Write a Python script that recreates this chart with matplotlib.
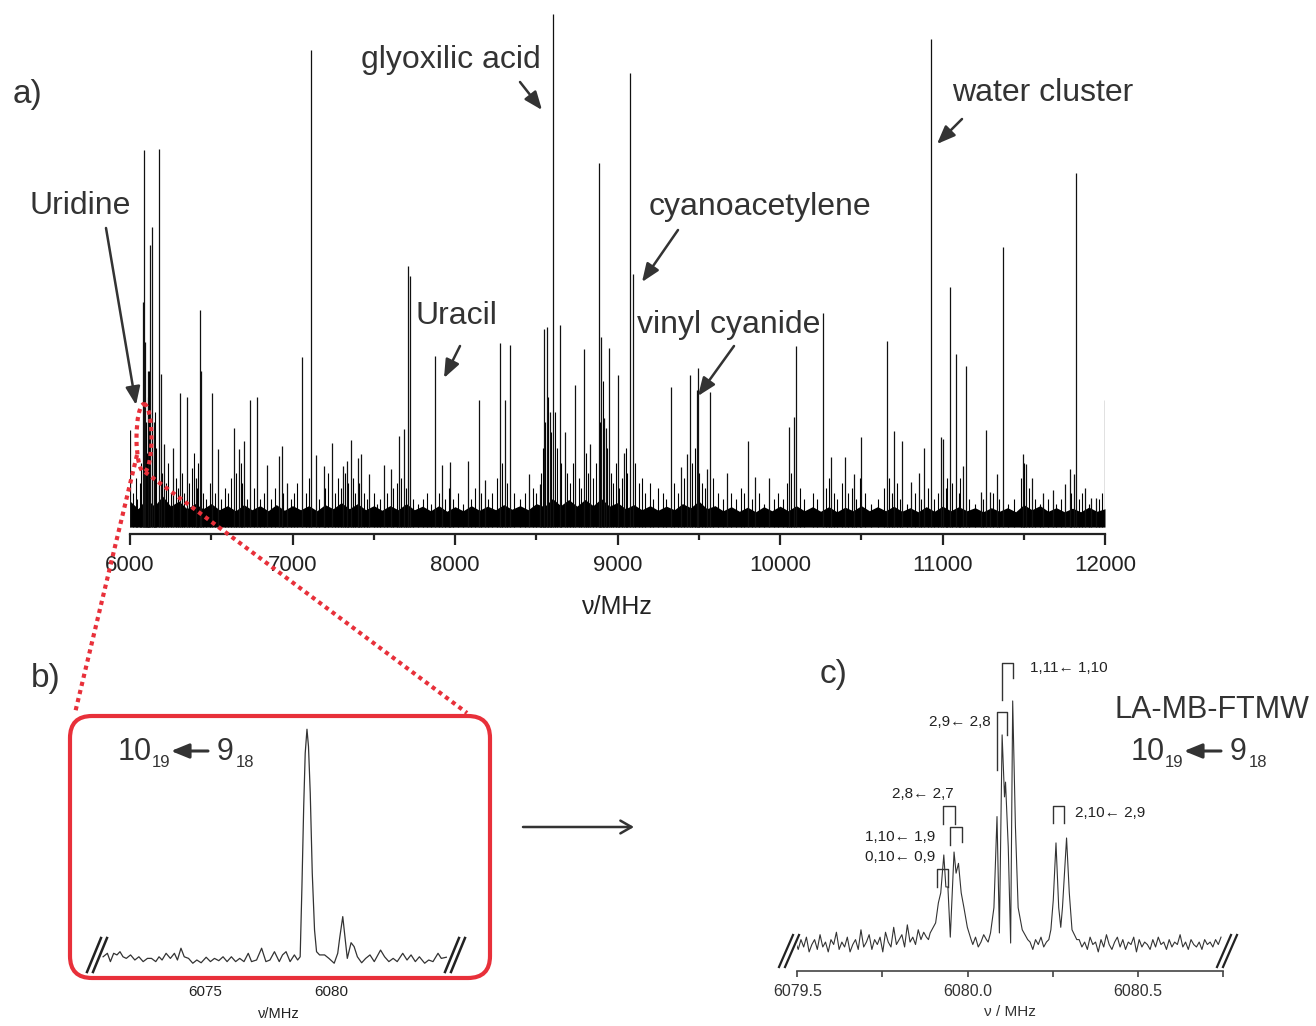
import numpy as np
import matplotlib
matplotlib.use("Agg")
import matplotlib.pyplot as plt
from matplotlib.patches import FancyBboxPatch, Ellipse
from matplotlib.ticker import MultipleLocator, FormatStrFormatter

plt.rcParams['font.family'] = ['Liberation Sans', 'DejaVu Sans']

W, H = 1316, 1026
INK = '#333333'
RED = '#e8303a'

# ---------------- a) broadband survey, 6-12 GHz (100 = strongest line)
line_freq = [6000, 6080, 6088, 6094, 6113, 6124, 6137, 6150, 6176, 6189, 6210, 6267,
             6308, 6350, 6404, 6430, 6438, 6505, 6539, 6642, 6668, 6699, 6741, 6780,
             6842, 6919, 6935, 6966, 7059, 7116, 7145, 7191, 7241, 7308, 7334, 7357,
             7401, 7422, 7471, 7562, 7606, 7658, 7684, 7712, 7722, 7878, 7919, 7971,
             8080, 8145, 8183, 8277, 8308, 8339, 8455, 8520, 8549, 8567, 8585, 8606,
             8644, 8675, 8740, 8792, 8831, 8885, 8901, 8914, 8927, 8948, 9000, 9038,
             9077, 9098, 9327, 9391, 9425, 9444, 9489, 9494, 9552, 9571, 9672, 9801,
             9844, 9931, 10056, 10087, 10101, 10265, 10313, 10400, 10453, 10501, 10657,
             10702, 10752, 10805, 10856, 10887, 10930, 10988, 11001, 11049, 11081, 11126,
             11144, 11237, 11266, 11293, 11338, 11370, 11494, 11513, 11550, 11621, 11677,
             11756, 11783, 11809, 11822, 11875, 11915, 11947, 12000]
line_int = [18.4, 43.5, 73.3, 35.7, 30, 54.7, 58.2, 20, 73.5, 29.4, 15.7, 14.9,
            25.7, 24.9, 9, 42, 30, 25.7, 14.7, 18.8, 14.7, 16.2, 24.3, 24.9,
            11.5, 13.3, 15.3, 8, 32.7, 92.9, 13.5, 11.4, 15.9, 11.4, 12.4, 16.5,
            12.9, 13.7, 9.8, 11.5, 10.8, 17.3, 18.7, 50.6, 48.6, 32.9, 11.5, 12.2,
            12.3, 24.3, 8.6, 35.5, 24.3, 35.1, 9.8, 7.8, 38.2, 38.7, 22, 100,
            39, 18, 27.3, 34.4, 15.7, 70.8, 36.6, 20.8, 18.8, 34.5, 29.2, 14,
            88.5, 49, 26.8, 11.1, 13.7, 29.3, 26.3, 30.6, 10.8, 25.9, 10, 16.2,
            9.3, 9, 19, 20.9, 34.9, 41.3, 13.1, 13.2, 9.8, 17.1, 35.9,
            18.3, 16.2, 8.2, 10, 14.9, 95.1, 17, 16.7, 46.5, 33.3, 11.4,
            31, 6.3, 18.4, 6.3, 9.8, 54.3, 13.7, 11.8, 9, 6.1, 6.7,
            7.8, 10.8, 9.8, 68.9, 7.1, 5.1, 5.1, 24.3]

weak_freq = [6020, 6035, 6045, 6060, 6070, 6100, 6105, 6112, 6118, 6145, 6152, 6160,
             6195, 6220, 6235, 6250, 6280, 6295, 6320, 6335, 6365, 6380, 6395, 6415,
             6420, 6450, 6470, 6490, 6520, 6560, 6585, 6600, 6620, 6655, 6680, 6690,
             6720, 6760, 6800, 6825, 6870, 6890, 6940, 6990, 7010, 7030, 7080, 7100,
             7160, 7200, 7220, 7260, 7280, 7300, 7320, 7340, 7370, 7385, 7410, 7440,
             7460, 7500, 7520, 7540, 7580, 7620, 7640, 7670, 7700, 7740, 7770, 7800,
             7830, 7850, 7900, 7940, 7960, 7990, 8020, 8050, 8100, 8120, 8160, 8200,
             8230, 8260, 8290, 8320, 8360, 8400, 8430, 8480, 8500, 8530, 8540, 8555,
             8575, 8590, 8615, 8630, 8655, 8690, 8710, 8725, 8760, 8775, 8805, 8820,
             8850, 8870, 8895, 8910, 8935, 8960, 8975, 8990, 9010, 9030, 9050, 9060,
             9110, 9130, 9150, 9170, 9200, 9220, 9250, 9280, 9300, 9350, 9370, 9410,
             9460, 9475, 9500, 9520, 9540, 9590, 9620, 9650, 9700, 9730, 9760, 9780,
             9830, 9870, 9900, 9960, 9990, 10020, 10040, 10070, 10120, 10150, 10200, 10230,
             10280, 10300, 10330, 10350, 10380, 10420, 10440, 10470, 10490, 10520, 10560, 10600,
             10640, 10670, 10690, 10720, 10740, 10780, 10830, 10870, 10910, 10950, 10970, 11020,
             11030, 11060, 11100, 11110, 11160, 11200, 11250, 11310, 11350, 11400, 11440, 11480,
             11500, 11530, 11570, 11600, 11650, 11700, 11730, 11790, 11840, 11860, 11900, 11960,
             11980]
weak_int = [6, 9, 5, 8, 12, 20, 14, 25, 30, 17, 22, 15,
            10, 8, 12, 6, 9, 7, 10, 6, 8, 11, 14, 7,
            12, 6, 5, 8, 6, 5, 7, 6, 9, 10, 12, 8,
            5, 7, 5, 6, 5, 7, 6, 5, 6, 8, 6, 9,
            5, 7, 10, 6, 9, 7, 10, 8, 9, 6, 8, 6,
            5, 6, 4, 5, 6, 7, 8, 9, 7, 5, 4, 5,
            6, 4, 6, 5, 7, 5, 6, 4, 5, 7, 6, 5,
            6, 9, 12, 8, 6, 5, 6, 7, 6, 10, 15, 20,
            25, 18, 22, 15, 12, 10, 8, 12, 9, 7, 14, 10,
            9, 12, 20, 28, 15, 10, 8, 12, 7, 9, 15, 10,
            12, 8, 9, 6, 8, 5, 7, 6, 5, 8, 6, 9,
            12, 15, 10, 8, 7, 9, 6, 5, 6, 5, 7, 6,
            5, 6, 4, 5, 6, 5, 8, 10, 7, 5, 6, 5,
            7, 9, 6, 5, 8, 6, 7, 5, 9, 6, 4, 5,
            7, 9, 6, 8, 5, 4, 6, 5, 7, 5, 6, 7,
            9, 8, 6, 9, 5, 4, 5, 6, 5, 4, 5, 9,
            12, 7, 5, 4, 5, 4, 5, 6, 5, 6, 4, 5,
            6]

# dense noise floor: ragged top edge of the solid band, read every 50 MHz
band_freq = np.arange(6000, 12001, 50)
band_top = [4.5, 3, 5, 3.5, 5.5, 3.5, 4.5, 3, 4, 3, 4, 2.8,
            3.6, 2.6, 3.8, 2.8, 3.6, 2.6, 3.8, 2.7, 3.6, 2.8, 3.6, 2.6,
            3.8, 3, 4.2, 3, 4, 2.8, 3.6, 2.7, 3.6, 2.8, 4, 2.8,
            3.5, 2.6, 3.6, 2.5, 3.4, 2.6, 3.6, 2.7, 3.5, 2.8, 3.8, 2.9,
            3.6, 2.8, 4, 3.4, 5, 3.6, 4.8, 3.5, 4.8, 3.6, 5, 3.5,
            4.2, 3, 3.8, 2.8, 3.6, 2.7, 3.5, 2.8, 4, 3.2, 4.5, 3,
            3.6, 2.6, 3.4, 2.5, 3.3, 2.4, 3.4, 2.6, 3.5, 2.6, 3.6, 2.6,
            3.4, 2.5, 3.4, 2.4, 3.3, 2.6, 3.6, 2.6, 3.4, 2.6, 3.5, 2.5,
            3.2, 2.4, 3.4, 2.5, 3.5, 2.6, 3.4, 2.6, 3.2, 2.4, 3.2, 2.5,
            3.2, 2.4, 3.8, 2.8, 3.6, 2.5, 3.2, 2.4, 3.1, 2.4, 3.3, 2.5,
            3]
band_floor = -0.6

# ---------------- b) Uridine 10_19 <- 9_18 in the survey scan
b_freq = [6070.96, 6071.13, 6071.25, 6071.38, 6071.51, 6071.63, 6071.75, 6071.88, 6072.05,
          6072.22, 6072.38, 6072.55, 6072.72, 6072.88, 6073.05, 6073.18, 6073.30, 6073.46,
          6073.63, 6073.79, 6073.91, 6074.05, 6074.18, 6074.35, 6074.52, 6074.68, 6074.85,
          6075.05, 6075.22, 6075.38, 6075.55, 6075.72, 6075.88, 6076.05, 6076.22, 6076.38,
          6076.55, 6076.72, 6076.85, 6077.05, 6077.25, 6077.42, 6077.58, 6077.76, 6077.95,
          6078.08, 6078.22, 6078.38, 6078.55, 6078.68, 6078.78, 6078.85, 6078.92, 6078.98,
          6079.05, 6079.11, 6079.18, 6079.26, 6079.35, 6079.43, 6079.55, 6079.75, 6079.92,
          6080.13, 6080.27, 6080.35, 6080.47, 6080.56, 6080.65, 6080.80, 6080.92, 6081.05,
          6081.22, 6081.38, 6081.55, 6081.72, 6081.97, 6082.13, 6082.30, 6082.47, 6082.63,
          6082.85, 6083.02, 6083.18, 6083.35, 6083.51, 6083.72, 6083.88, 6084.05, 6084.25,
          6084.38, 6084.58]
b_int = [1.4, 2.9, -0.7, 2.9, 2.2, 3.6, 1.4, 0.7, 2.2,
         0, 1.4, -0.7, 0.7, 0.7, -0.7, 1.4, 0, 2.9,
         0.7, 2.9, 0, 5.1, 1.4, 0.7, -1.4, 0, -1.2,
         1.2, -0.7, 0.7, -0.3, 1.4, -0.7, 1.4, -0.7, 0.7,
         -0.7, 2.9, -0.7, 0, 5.1, -0.7, 0, 3.6, -0.7,
         2.2, 3.6, -0.7, 2.2, 0, 1.4, 31.8, 66.5, 89.6,
         100, 92.5, 72.3, 37.6, 13, 3.6, 2.2, 2.2, 0.7,
         -1.4, 2.9, 9.7, 18.8, 9.7, 0.7, 7.5, 5.8, 1.4,
         -1.2, 0.7, 2.2, -0.7, 4.3, 1.4, -0.7, 0.7, -0.7,
         2.9, 0, 2.2, -0.7, 1.4, -1.4, 0, -0.7, 2.9,
         0.7, 1.2]

# ---------------- c) LA-MB-FTMW high resolution scan
# noise sampled every 8 kHz; nan where the hyperfine lines take over
c_noise_freq = np.round(np.arange(6079.495, 6080.75, 0.008), 3)
c_noise_int = [2, -1, 3, 0, 4, -2, 1, 3, -1, 5, 0, 2, -2, 3, 1, 6, -1, 2, 0, 4,
               -2, 1, 3, -1, 7, 0, 2, 5, -1, 3, 1, 4, -2, 6, 2, 0, 8, 1, 3, 5,
               0, 9, 2, 4, 1, 7, 3, 6, 4] + [np.nan] * 16 + \
              [1, 4, 0, 2, 5, 3] + [np.nan] * 15 + \
              [2, -1, 3, 1, 4, 0, 2] + [np.nan] * 11 + \
              [3, 0, 2, -1, 4, 1, 2, -2, 3, 0, 5, 1, -1, 2, 4, 0, 3, -1, 2, 1,
               4, -2, 3, 0, 2, 1, -1, 3, 0, 4, 1, 2, -1, 3, 0, 2, 1, 5, 0, 2,
               -1, 3, 1, 0, 2, -1, 3, 1, 2, 0, 3, 1, 4]
c_peak_freq = [6079.885, 6079.890, 6079.906, 6079.914, 6079.921, 6079.930, 6079.936,
               6079.942, 6079.949, 6079.960, 6079.966, 6079.973, 6079.981, 6079.989,
               6079.999, 6080.010,
               6080.060, 6080.067, 6080.077, 6080.086, 6080.093, 6080.101, 6080.108,
               6080.111, 6080.119, 6080.126, 6080.132, 6080.140, 6080.148, 6080.160,
               6080.176,
               6080.238, 6080.244, 6080.251, 6080.259, 6080.267, 6080.273, 6080.278,
               6080.290, 6080.298, 6080.306, 6080.320]
c_peak_int = [3, 5.7, 9.8, 17.9, 22, 37.4, 24.4,
              24.4, 4, 38.6, 30, 34, 22, 16,
              8, 3,
              2, 5.7, 16, 53, 5.7, 86.2, 61,
              67, 40.7, 1.6, 100, 49, 16, 7,
              3,
              3, 7, 19, 42.3, 16, 8, 16,
              44.3, 22, 7, 3]

# hyperfine assignments: label, left/right leg freq, top, leg bottoms, label anchor
c_brackets = [
    ("1,11\u2190 1,10", 6080.101, 6080.132, 115.6, 100.4, 109.3, 6080.183, 113.4, 'left'),
    ("2,9\u2190 2,8", 6080.086, 6080.116, 95.7, 72.0, 86.2, 6080.067, 91.6, 'right'),
    ("2,8\u2190 2,7", 6079.928, 6079.962, 57.4, 49.9, 49.9, 6079.869, 62.1, 'center'),
    ("1,10\u2190 1,9", 6079.949, 6079.983, 48.9, 41.5, 42.6, 6079.906, 44.8, 'right'),
    ("0,10\u2190 0,9", 6079.911, 6079.942, 31.6, 24.3, 24.3, 6079.906, 36.7, 'right'),
    ("2,10\u2190 2,9", 6080.249, 6080.283, 57.4, 50.5, 50.5, 6080.314, 54.3, 'left'),
]

fig = plt.figure(figsize=(W / 100, H / 100), dpi=100)


def px_axes(x0, y0, x1, y1):
    return fig.add_axes([x0 / W, 1 - y1 / H, (x1 - x0) / W, (y1 - y0) / H])


# ---- a)
ax_a = px_axes(130, 10, 1105, 534)
ax_a.fill_between(band_freq, band_floor, band_top, color='black', lw=0)
ax_a.vlines(weak_freq, band_floor, weak_int, color='black', lw=0.8)
ax_a.vlines(line_freq, band_floor, line_int, color='#111111', lw=0.9)
ax_a.set_xlim(6000, 12000)
ax_a.set_ylim(-1.96, 100.8)
for s in ['top', 'left', 'right']:
    ax_a.spines[s].set_visible(False)
ax_a.spines['bottom'].set_linewidth(1.6)
ax_a.spines['bottom'].set_color('#222222')
ax_a.set_yticks([])
ax_a.xaxis.set_major_locator(MultipleLocator(1000))
ax_a.xaxis.set_minor_locator(MultipleLocator(500))
ax_a.tick_params(axis='x', which='major', direction='out', length=8, width=1.6,
                 labelsize=16, pad=7, colors='#222222')
ax_a.tick_params(axis='x', which='minor', direction='out', length=4, width=1.6,
                 colors='#222222')
ax_a.set_xlabel("\u03bd/MHz", fontsize=18, color='#222222', labelpad=14)

# ---- b)
ax_b = px_axes(92, 720, 466, 972)
ax_b.plot(b_freq, b_int, color=INK, lw=0.9)
ax_b.set_xlim(6070.52, 6085.36)
ax_b.set_ylim(-5.2, 104)
for s in ax_b.spines.values():
    s.set_visible(False)
ax_b.set_yticks([])
ax_b.set_xticks([6075, 6080])
ax_b.tick_params(axis='x', length=0, labelsize=11, pad=9, colors='#222222')
ax_b.set_xlabel("\u03bd/MHz", fontsize=10.5, color='#222222', labelpad=6)

# ---- c)
ax_c = px_axes(797.2, 650, 1223.4, 971)
keep = ~np.isnan(np.array(c_noise_int, dtype=float))
c_f = np.concatenate([c_noise_freq[keep], c_peak_freq])
c_i = np.concatenate([np.array(c_noise_int, dtype=float)[keep], c_peak_int])
order = np.argsort(c_f)
ax_c.plot(c_f[order], c_i[order], color=INK, lw=0.8)
ax_c.set_xlim(6079.5, 6080.75)
ax_c.set_ylim(-9.76, 120.7)
for s in ['top', 'left', 'right']:
    ax_c.spines[s].set_visible(False)
ax_c.spines['bottom'].set_linewidth(1.2)
ax_c.spines['bottom'].set_color('#444444')
ax_c.set_yticks([])
ax_c.xaxis.set_major_locator(MultipleLocator(0.5))
ax_c.xaxis.set_minor_locator(MultipleLocator(0.25))
ax_c.xaxis.set_major_formatter(FormatStrFormatter('%.1f'))
ax_c.tick_params(axis='x', which='both', direction='out', length=4, width=1.1,
                 labelsize=11.5, pad=5, colors='#333333')
ax_c.set_xlabel("\u03bd / MHz", fontsize=11, color='#333333', labelpad=5)

for lab, fl, fr, top, bl, br, tx, ty, ha in c_brackets:
    ax_c.plot([fl, fl, fr, fr], [bl, top, top, br], color=INK, lw=1.0, clip_on=False)
    ax_c.text(tx, ty, lab, ha=ha, va='center', fontsize=11, color='#222222')

# ---- overlay in pixel units for the figure furniture
ax_o = fig.add_axes([0, 0, 1, 1])
ax_o.set_xlim(0, W)
ax_o.set_ylim(H, 0)
ax_o.axis('off')
ax_o.set_zorder(5)
ax_o.patch.set_visible(False)

for txt, (x, y) in {"a)": (28, 94), "b)": (46, 678), "c)": (834, 675)}.items():
    ax_o.text(x, y, txt, fontsize=24, color=INK, ha='center', va='center')

labels = [
    ("Uridine", (80, 206), (106, 228), (136, 405)),
    ("glyoxilic acid", (451, 60), (520, 82), (542, 110)),
    ("Uracil", (456, 316), (460, 346), (444, 378)),
    ("cyanoacetylene", (760, 207), (678, 230), (642, 282)),
    ("vinyl cyanide", (729, 325), (734, 346), (698, 396)),
    ("water cluster", (1043, 93), (962, 119), (937, 144)),
]
for txt, pos, tail, tip in labels:
    ax_o.text(pos[0], pos[1], txt, fontsize=23, color=INK, ha='center', va='center')
    ax_o.annotate('', xy=tip, xytext=tail,
                  arrowprops=dict(arrowstyle='-|>,head_length=0.55,head_width=0.22',
                                  lw=1.8, color=INK, shrinkA=0, shrinkB=0,
                                  mutation_scale=20))

# zoom marker: dotted oval on the uridine line and the two guides to panel b
ax_o.add_patch(Ellipse((144, 438), 15, 68, fill=False, ec=RED, lw=3,
                       linestyle=(0, (1, 1))))
ax_o.plot([137, 75], [455, 713], color=RED, lw=3, linestyle=(0, (1, 1)))
ax_o.plot([145, 467], [472, 713], color=RED, lw=3, linestyle=(0, (1, 1)))
ax_o.add_patch(FancyBboxPatch((70, 716), 420, 262,
                              boxstyle='round,pad=0,rounding_size=22',
                              fill=False, ec=RED, lw=3))

# axis breaks
for x0 in (87, 93, 445, 451):
    ax_o.plot([x0, x0 + 14], [972, 938], color='#222222', lw=1.8)
for x0 in (779, 785, 1217, 1223):
    ax_o.plot([x0, x0 + 14], [967, 935], color='#222222', lw=1.6)

# b -> c arrow
ax_o.annotate('', xy=(634, 827), xytext=(523, 827),
              arrowprops=dict(arrowstyle='->,head_length=0.4,head_width=0.23',
                              lw=1.8, color=INK, shrinkA=0, shrinkB=0,
                              mutation_scale=20))


def transition(x, y):
    ax_o.text(x, y, "10", fontsize=22, color=INK, va='baseline')
    ax_o.text(x + 34, y + 7, "19", fontsize=12, color=INK, va='baseline')
    ax_o.annotate('', xy=(x + 53, y - 9), xytext=(x + 90, y - 9),
                  arrowprops=dict(arrowstyle='-|>,head_length=0.54,head_width=0.22',
                                  lw=2.2, color=INK, shrinkA=0, shrinkB=0,
                                  mutation_scale=20))
    ax_o.text(x + 99, y, "9", fontsize=22, color=INK, va='baseline')
    ax_o.text(x + 118, y + 7, "18", fontsize=12, color=INK, va='baseline')


transition(118, 760)
transition(1131, 760)
ax_o.text(1212, 710, "LA-MB-FTMW", fontsize=22, color=INK, ha='center', va='center')

fig.savefig("out.png", dpi=100)
